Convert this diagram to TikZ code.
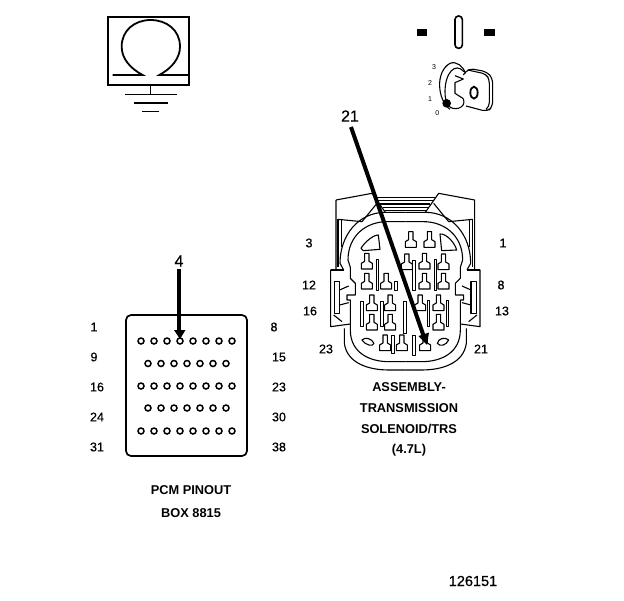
\documentclass[tikz,border=0pt]{standalone}
\usepackage{fontspec}
\setmainfont{Liberation Sans}
\newfontfamily\semib[FakeBold=0.6]{Liberation Sans}
\newcommand{\termT}[2]{\draw[conn] (#1-6,#2) -- (#1+7,#2) -- (#1+7,#2+24) -- (#1+17,#2+30) -- (#1+17,#2+47) -- (#1-16,#2+47) -- (#1-16,#2+30) -- (#1-6,#2+24) -- cycle;}
\newcommand{\barV}[3]{\draw[conn,line width=0.85pt] (#1-4,#2) rectangle (#1+4,#3);}
\newcommand{\halfHousing}{%
  \draw[conn] (0,125) -- (55,125) .. controls (115,125) and (172,165) .. (172,240) -- (165,262) -- (165,295) -- (150,310) -- (150,345) -- (175,345) -- (175,360) -- (165,360) -- (165,450) .. controls (165,520) and (105,545) .. (50,545) -- (0,545);
  \draw[conn] (0,97) -- (60,97) .. controls (140,97) and (196,165) .. (196,250) -- (185,270);
  \draw[conn] (183,445) -- (183,490) .. controls (175,550) and (110,570) .. (50,570) -- (0,570);
  \draw[conn] (208,60) -- (100,40) -- (60,97);
  \draw[conn] (208,60) -- (208,270) -- (224,270) -- (224,440) -- (165,432);
  \draw[conn] (224,270) -- (185,270);
  \draw[conn] (202,118) -- (202,262);
  \draw[conn] (192,120) -- (192,200);
  \draw[conn] (202,118) -- (130,125) -- (85,70);
  \draw[conn] (213,305) -- (197,305) -- (197,400) -- (213,400) -- cycle;
  \draw[conn] (197,330) -- (170,318);
  \draw[conn] (197,375) -- (170,368);
  \draw[conn] (215,405) -- (190,425);
  \foreach \yy/\dd in {52/90,62/82,72/75,82/68}{\draw[conn] (0,\yy) -- (\dd,\yy);}
  \draw[conn] (0,92) -- (62,92);
}
\tikzset{
  lab/.style={font=\fontsize{12.5}{14}\semib,inner sep=0pt,text=black},
  captext/.style={font=\fontsize{12.8}{14}\selectfont\bfseries,inner sep=0pt,text=black},
  big/.style={font=\fontsize{16}{18}\semib,inner sep=0pt,text=black},
  figno/.style={font=\fontsize{14.5}{16}\semib,inner sep=0pt,text=black},
  smalltxt/.style={font=\fontsize{7}{8}\selectfont,inner sep=0pt,text=black},
  conn/.style={line width=1.1pt,black,line join=round},
  pinhole/.style={circle,draw=black,line width=1.5pt,fill=white,minimum size=6pt,inner sep=0pt},
  pointer/.style={line width=4pt,black}
}
\begin{document}
\begin{tikzpicture}[x=1pt,y=-1pt]
\useasboundingbox (0,0) rectangle (624,600);
\fill[white] (0,0) rectangle (624,600);

% ground / ohm symbol
\begin{scope}[shift={(100,10)},x=.3333pt,y=-.3333pt]
  \draw[line width=2pt] (24,22) rectangle (267,226);
  \draw[line width=1.8pt] (38,195) -- (128,195) .. controls (90,175) and (65,145) .. (65,110) .. controls (65,60) and (105,30) .. (152,30) .. controls (200,30) and (240,60) .. (240,110) .. controls (240,145) and (215,175) .. (178,195) -- (265,195);
  \draw[line width=1.5pt] (152,226) -- (152,254);
  \draw[line width=1.5pt] (75,254) -- (230,254);
  \draw[line width=2.2pt] (103,280) -- (205,280);
  \draw[line width=1.5pt] (127,305) -- (178,305);
\end{scope}

% key switch
\begin{scope}[shift={(400,10)},x=.3333pt,y=-.3333pt]
  \fill (50,57) rectangle (82,78);
  \fill (252,57) rectangle (285,78);
  \draw[line width=1.6pt,rounded corners=3.5pt] (165,18) rectangle (187,115);
  \draw[conn] (150,298) .. controls (112,270) and (105,185) .. (150,160) .. controls (170,152) and (190,170) .. (197,190);
  \draw[conn] (192,185) .. controls (165,155) and (135,190) .. (135,245) .. controls (135,285) and (150,300) .. (175,295) .. controls (190,290) and (195,280) .. (190,266);
  \draw[conn,rounded corners=5pt] (190,195) -- (205,175) -- (260,185) -- (278,205) -- (278,290) -- (262,305) -- (198,288);
  \draw[conn,rounded corners=4pt] (203,180) -- (258,192) -- (268,208) -- (268,290) -- (258,298);
  \draw[conn] (165,197) -- (190,207) -- (165,218) -- (165,250) -- (190,266);
  \draw[line width=1.8pt] (222,248) ellipse [x radius=11,y radius=18];
  \fill (140,280) circle [radius=13];
  \node[smalltxt] (k3) at (102,171) {3};
  \node[smalltxt] (k2) at (90,220) {2};
  \node[smalltxt] (k1) at (90,268) {1};
  \node[smalltxt] (k0) at (112,308) {0};
\end{scope}

% connector housing
\begin{scope}[shift={(405.33,180)},x=.3333pt,y=-.3333pt]\halfHousing\end{scope}
\begin{scope}[shift={(405.33,180)},x=-.3333pt,y=-.3333pt]\halfHousing\end{scope}

% connector cavities
\begin{scope}[shift={(290,180)},x=.3333pt,y=-.3333pt]
  \draw[conn] (213,205) .. controls (225,185) and (250,165) .. (265,165) -- (270,208) -- (220,212) -- cycle;
  \draw[conn] (450,162) .. controls (470,160) and (495,190) .. (500,210) -- (455,212) -- cycle;
  \draw[conn] (216,480) .. controls (225,470) and (245,475) .. (252,490) .. controls (250,502) and (225,495) .. (216,480) -- cycle;
  \draw[conn] (442,490) .. controls (445,475) and (465,470) .. (476,480) .. controls (470,495) and (450,502) .. (442,490) -- cycle;
  \foreach \px/\py in {362/155,418/155,230/220,350/222,403/220,460/222,230/280,288/280,403/280,460/280,245/345,300/345,390/345,445/345,245/403,300/403,445/403,285/465,335/465,405/465}{\termT{\px}{\py}}
  \barV{262}{238}{330}\barV{318}{305}{330}\barV{372}{240}{330}\barV{436}{238}{330}
  \barV{215}{365}{440}\barV{275}{365}{440}\barV{345}{365}{460}\barV{415}{360}{440}\barV{472}{360}{440}
  \barV{308}{465}{520}\barV{372}{465}{525}
\end{scope}

% connector labels
\node[lab] (c3) at (309,243) {3};
\node[lab] (c1) at (503,243) {1};
\node[lab] (c12) at (309,285) {12};
\node[lab] (c8) at (501,285) {8};
\node[lab] (c16) at (310,311) {16};
\node[lab] (c13) at (502,311) {13};
\node[lab] (c23) at (326,349) {23};
\node[lab] (c21) at (481,349) {21};
\node[captext] (a1) at (409,387) {ASSEMBLY-};
\node[captext] (a2) at (409,408) {TRANSMISSION};
\node[captext] (a3) at (409,429) {SOLENOID/TRS};
\node[captext] (a4) at (409,450) {(4.7L)};

% PCM box
\draw[line width=1.7pt,rounded corners=5pt] (126,315) rectangle (247,456);
\foreach \row/\yy in {a/341,c/386,e/431}{
  \foreach \i in {0,...,7}{\node[pinhole] (p\row\i) at (141+13*\i,\yy) {};}}
\foreach \row/\yy in {b/363.5,d/408}{
  \foreach \i in {0,...,6}{\node[pinhole] (p\row\i) at (148+13*\i,\yy) {};}}
\node[lab] (l1) at (94,327) {1};
\node[lab] (l9) at (94,357) {9};
\node[lab] (l16) at (97,387) {16};
\node[lab] (l24) at (97,417) {24};
\node[lab] (l31) at (97,447) {31};
\node[lab] (r8) at (274,327) {8};
\node[lab] (r15) at (279,357) {15};
\node[lab] (r23) at (279,387) {23};
\node[lab] (r30) at (279,417) {30};
\node[lab] (r38) at (279,447) {38};
\node[captext] (t1) at (191,490) {PCM PINOUT};
\node[captext] (t2) at (191,513) {BOX 8815};

% pointers
\node[big] (n4) at (179,261) {4};
\node[big] (n21) at (350,116) {21};
\node[figno] (fig) at (473,581) {126151};
\coordinate (tip4) at (180,339);
\coordinate (tip21) at (427,345);
\draw[pointer] (n4.south) ++(0,2) -- (179,332);
\fill (174,330) -- (185.5,330) -- (tip4) -- cycle;
\draw[pointer] (351,127) -- (424,337);
\fill (418.5,336) -- (429,332.5) -- (tip21) -- cycle;
\end{tikzpicture}
\end{document}
